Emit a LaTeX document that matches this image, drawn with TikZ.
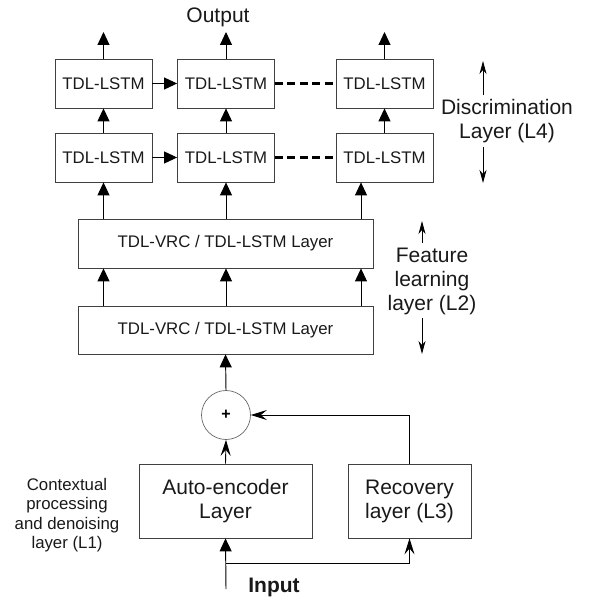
\documentclass[tikz,border=0pt]{standalone}
\usepackage{fontspec}
\setmainfont{Liberation Sans}
\usetikzlibrary{arrows.meta,calc}
\begin{document}
\begin{tikzpicture}[x=1pt,y=-1pt,
  box/.style={draw=black!75, line width=0.8pt, minimum width=97pt, minimum height=49pt, inner sep=0pt, text=black!90, font=\fontsize{16.8}{18}\selectfont},
  wide/.style={box, minimum width=295pt},
  big/.style={draw=black!75, line width=0.8pt, minimum height=74pt, inner sep=0pt, align=center, text=black!90, font=\fontsize{21}{24}\selectfont},
  lab/.style={align=center, text=black!90, font=\fontsize{21}{24}\selectfont},
  small/.style={align=center, text=black!90, font=\fontsize{16.8}{19.5}\selectfont},
  tri/.style={line width=0.95pt, -{Triangle[width=12pt,length=13pt]}},
  stl/.style={line width=0.9pt, -{Stealth[width=10pt,length=16pt,inset=6pt]}},
  thinarr/.style={line width=0.9pt, -{Stealth[width=7pt,length=13pt,inset=4pt]}},
  dsh/.style={line width=2.4pt, dash pattern=on 8pt off 4.5pt}
]
\useasboundingbox (0,0) rectangle (596,601);

% discrimination layer
\node[box] (L11) at (103.5,83.5) {TDL-LSTM};
\node[box] (L12) at (226,83.5) {TDL-LSTM};
\node[box] (L13) at (384.5,83.5) {TDL-LSTM};
\node[box] (L21) at (103.5,157.5) {TDL-LSTM};
\node[box] (L22) at (226,157.5) {TDL-LSTM};
\node[box] (L23) at (384.5,157.5) {TDL-LSTM};

\node[lab] (out) at (218,17) {Output};
\coordinate (o1) at (103.5,32);
\coordinate (o2) at (226,32);
\coordinate (o3) at (384.5,32);
\draw[tri] (L11.north) -- (o1);
\draw[tri] (L12.north) -- (o2);
\draw[tri] (L13.north) -- (o3);

\draw[tri] (L21.north) -- (L11.south);
\draw[tri] (L22.north) -- (L12.south);
\draw[tri] (L23.north) -- (L13.south);

\draw[tri] (L11.east) -- (L12.west);
\draw[tri] (L21.east) -- (L22.west);
\draw[dsh] (L12.east) -- (L13.west);
\draw[dsh] (L22.east) -- (L23.west);

% feature learning layer
\node[wide] (V1) at (225.5,243.5) {TDL-VRC / TDL-LSTM Layer};
\node[wide, minimum height=48pt] (V2) at (225.5,330) {TDL-VRC / TDL-LSTM Layer};

\coordinate (xa) at (103.5,0);
\coordinate (xb) at (226,0);
\coordinate (xc) at (361,0);
\draw[tri] (V1.north -| xa) -- (L21.south -| xa);
\draw[tri] (V1.north -| xb) -- (L22.south -| xb);
\draw[tri] (V1.north -| xc) -- (L23.south -| xc);
\draw[tri] (V2.north -| xa) -- (V1.south -| xa);
\draw[tri] (V2.north -| xb) -- (V1.south -| xb);
\draw[tri] (V2.north -| xc) -- (V1.south -| xc);

% sum and lower layers
\node[circle, draw=black!60, line width=0.7pt, minimum size=49pt, inner sep=0pt, font=\fontsize{16}{16}\selectfont\bfseries] (S) at (226,415) {+};
\node[big, minimum width=173pt] (AE) at (225.5,501) {Auto-encoder\\Layer};
\node[big, minimum width=123pt] (RC) at (409.5,501) {Recovery\\layer (L3)};

\draw[tri] (S.north) -- (V2.south);
\draw[stl] (AE.north) -- (S.south);
\draw[stl] (RC.north) |- (S.east);

\node[lab, font=\fontsize{21}{24}\selectfont\bfseries] (in) at (274,587) {Input};
\coordinate (in0) at (226,589);
\coordinate (br) at (226,563);
\coordinate (br2) at (409.5,563);
\draw[tri] (in0) -- (AE.south);
\draw[stl] (br) -- (br2) -- (RC.south);

% side labels
\node[lab] (D) at (507,121) {Discrimination\\Layer (L4)};
\coordinate (da) at (483,95);
\coordinate (db) at (483,61);
\coordinate (dc) at (483,147);
\coordinate (dd) at (483,183);
\draw[thinarr] (da) -- (db);
\draw[thinarr] (dc) -- (dd);

\node[lab] (F) at (432,281) {Feature\\learning\\layer (L2)};
\coordinate (fa) at (422,243);
\coordinate (fb) at (422,221);
\coordinate (fc) at (422,318);
\coordinate (fd) at (422,354);
\draw[thinarr] (fa) -- (fb);
\draw[thinarr] (fc) -- (fd);

\node[small] (C) at (67,515) {Contextual\\processing\\and denoising\\layer (L1)};
\end{tikzpicture}
\end{document}
